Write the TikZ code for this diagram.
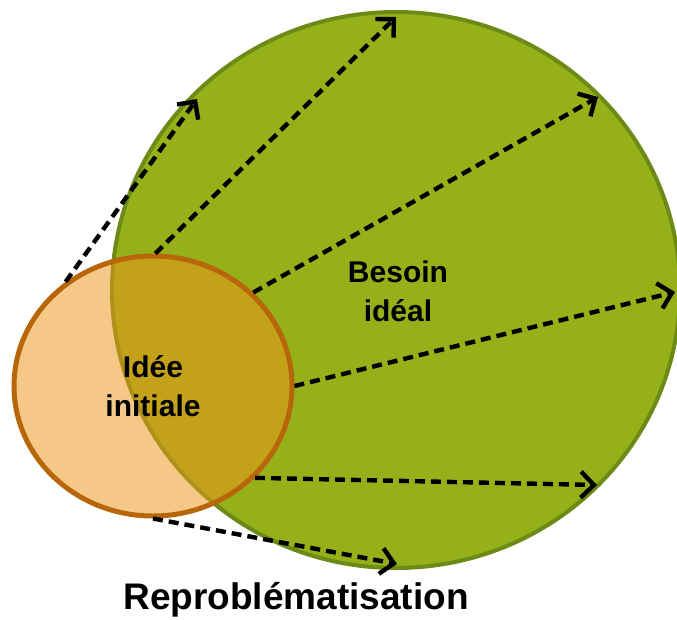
\documentclass[tikz,border=0pt]{standalone}
\usepackage{fontspec}
\setmainfont{Liberation Sans}
\usetikzlibrary{shapes.geometric,arrows.meta}
\definecolor{greenfill}{HTML}{95B019}
\definecolor{greenline}{HTML}{6E8A16}
\definecolor{orangefill}{HTML}{EC971C}
\definecolor{orangeline}{HTML}{B8660A}
\tikzset{
  bigcircle/.style={ellipse, draw=greenline, fill=greenfill, line width=4pt,
    minimum width=568pt, minimum height=556pt, inner sep=0pt},
  smallcircle/.style={ellipse, draw=orangeline, fill=orangefill, fill opacity=0.53,
    line width=5pt, minimum width=278pt, minimum height=260pt, inner sep=0pt},
  txtlabel/.style={font=\bfseries\fontsize{30}{39}\selectfont, align=center, text=black},
  biglabel/.style={font=\bfseries\fontsize{37}{44}\selectfont, text=black},
  expand/.style={draw=black, line width=4.4pt, dash pattern=on 10pt off 6pt,
    -{Straight Barb[length=13pt,width=26pt,line width=4.4pt]}}
}
\begin{document}
\begin{tikzpicture}[x=1pt,y=-1pt]
\useasboundingbox (0,0) rectangle (677,619);
\node[bigcircle] (besoin) at (396,290) {};
\node[smallcircle] (idee) at (153,386) {};
\coordinate (e1) at (197,99);
\coordinate (e2) at (396,17);
\coordinate (e3) at (598,97);
\coordinate (e4) at (675,292);
\coordinate (e5) at (597,485);
\coordinate (e6) at (397,564);
\draw[expand] (idee.130) -- (e1);
\draw[expand] (idee.89) -- (e2);
\draw[expand] (idee.43) -- (e3);
\draw[expand] (idee.0) -- (e4);
\draw[expand] (idee.-42) -- (e5);
\draw[expand] (idee.-90) -- (e6);
\node[txtlabel] (tb) at (398,291) {Besoin\\idéal};
\node[txtlabel] (ti) at (153,386) {Idée\\initiale};
\node[biglabel] (tr) at (296,600) {Reproblématisation};
\end{tikzpicture}
\end{document}
